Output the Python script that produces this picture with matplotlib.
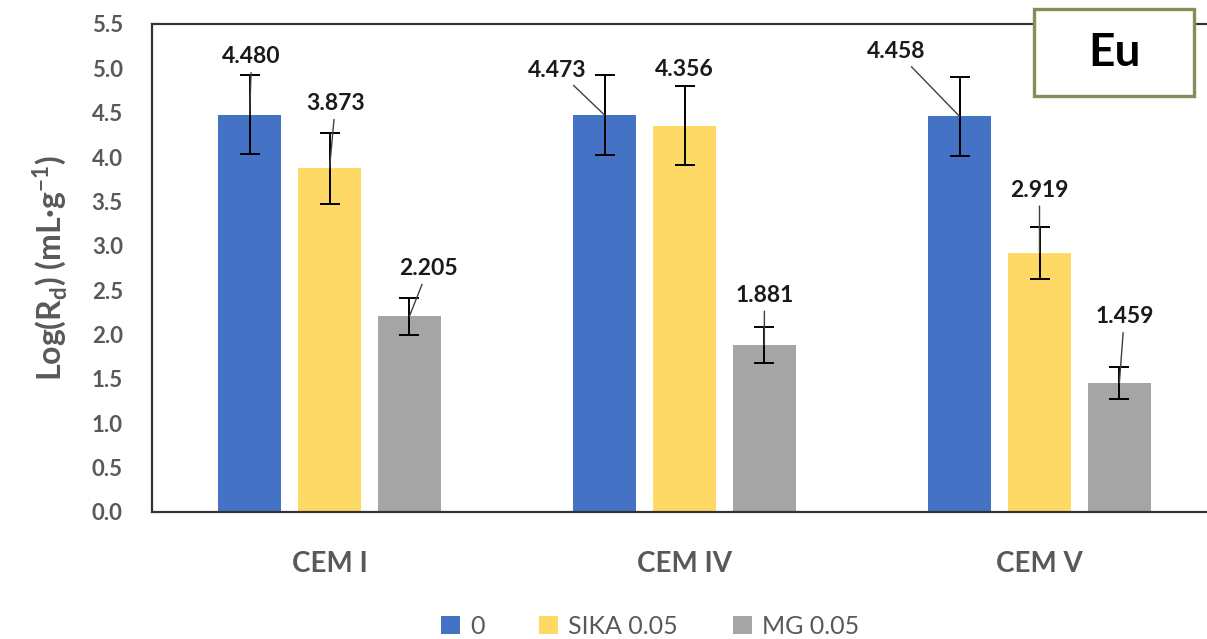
import numpy as np
import matplotlib.pyplot as plt
import matplotlib as mpl
from matplotlib.patches import Rectangle

mpl.rcParams["font.family"] = ["Lato", "DejaVu Sans"]

# ── Data ──
categories = ["CEM I", "CEM IV", "CEM V"]
series = ["0", "SIKA 0.05", "MG 0.05"]
values_0 = [4.480, 4.473, 4.458]
values_sika = [3.873, 4.356, 2.919]
values_mg = [2.205, 1.881, 1.459]
err_0 = [0.45, 0.45, 0.45]
err_sika = [0.40, 0.44, 0.29]
err_mg = [0.21, 0.20, 0.18]
colors = ["#4472C4", "#FFD966", "#A5A5A5"]

# label offsets in pixels (dx, dy from bar top) and whether a leader line is drawn
label_offsets = [
    [(2, 58, True), (-47, 45, True), (-63, 65, True)],   # series 0
    [(6, 65, True), (0, 56, False), (0, 63, True)],      # SIKA
    [(19, 48, True), (0, 50, True), (5, 66, True)],      # MG
]

GREY = "#595959"

fig = plt.figure(figsize=(12.07, 6.39), dpi=100)
W, H = 1207, 639
ax = fig.add_axes([152 / W, (H - 512) / H, (1217 - 152) / W, (512 - 24) / H])

x = np.arange(len(categories))
offs = [-0.225, 0.0, 0.225]
width = 0.177
all_vals = [values_0, values_sika, values_mg]
all_errs = [err_0, err_sika, err_mg]

for i, (vals, errs) in enumerate(zip(all_vals, all_errs)):
    ax.bar(x + offs[i], vals, width, color=colors[i], label=series[i], zorder=2)
    ax.errorbar(x + offs[i], vals, yerr=errs, fmt="none", ecolor="black",
                elinewidth=1.4, capsize=7, capthick=1.4, zorder=4)
    for j, v in enumerate(vals):
        dx, dy, leader = label_offsets[i][j]
        ap = dict(arrowstyle="-", color="#404040", lw=1.0,
                  shrinkA=2, shrinkB=0) if leader else None
        ax.annotate(f"{v:.3f}", xy=(x[j] + offs[i], v), xytext=(dx, dy),
                    textcoords="offset pixels", ha="center", va="center",
                    fontsize=16.5, fontweight="bold", color="#1a1a1a",
                    arrowprops=ap, zorder=5)

ax.set_xlim(-0.5, 2.5)
ax.set_ylim(0, 5.5)
ticks = np.arange(0, 5.51, 0.5)
ax.set_yticks(ticks)
ax.set_yticklabels([f"{t:.1f}" for t in ticks])
ax.set_xticks(x)
ax.set_xticklabels(categories)
ax.tick_params(axis="y", length=0, pad=21, labelsize=16, labelcolor=GREY)
ax.tick_params(axis="x", length=0, pad=28, labelsize=20, labelcolor=GREY)
for lbl in ax.get_xticklabels() + ax.get_yticklabels():
    lbl.set_fontweight("bold")
for s in ax.spines.values():
    s.set_color("#333333")
    s.set_linewidth(1.6)
ax.spines["right"].set_visible(False)

ax.set_ylabel(r"Log(R$_\mathregular{d}$) (mL·g$^\mathregular{-1}$)", fontsize=23,
              fontweight="bold", color=GREY, labelpad=16)

leg = fig.legend(loc="center", bbox_to_anchor=(650 / W, (H - 626) / H), ncol=3,
                 frameon=False, fontsize=18, handlelength=0.75, handleheight=0.75,
                 columnspacing=2.2, handletextpad=0.4)
for t in leg.get_texts():
    t.set_color(GREY)

# "Eu" box
fig.patches.append(Rectangle((1034 / W, (H - 96) / H), (1194 - 1034) / W, (96 - 9) / H,
                             transform=fig.transFigure, fc="white", ec="#8B8B5A",
                             lw=2.4, zorder=10))
fig.text(1114 / W, (H - 53) / H, "Eu", fontsize=33, fontweight="bold",
         ha="center", va="center", color="black", zorder=11)

fig.savefig("out.png", dpi=100)
